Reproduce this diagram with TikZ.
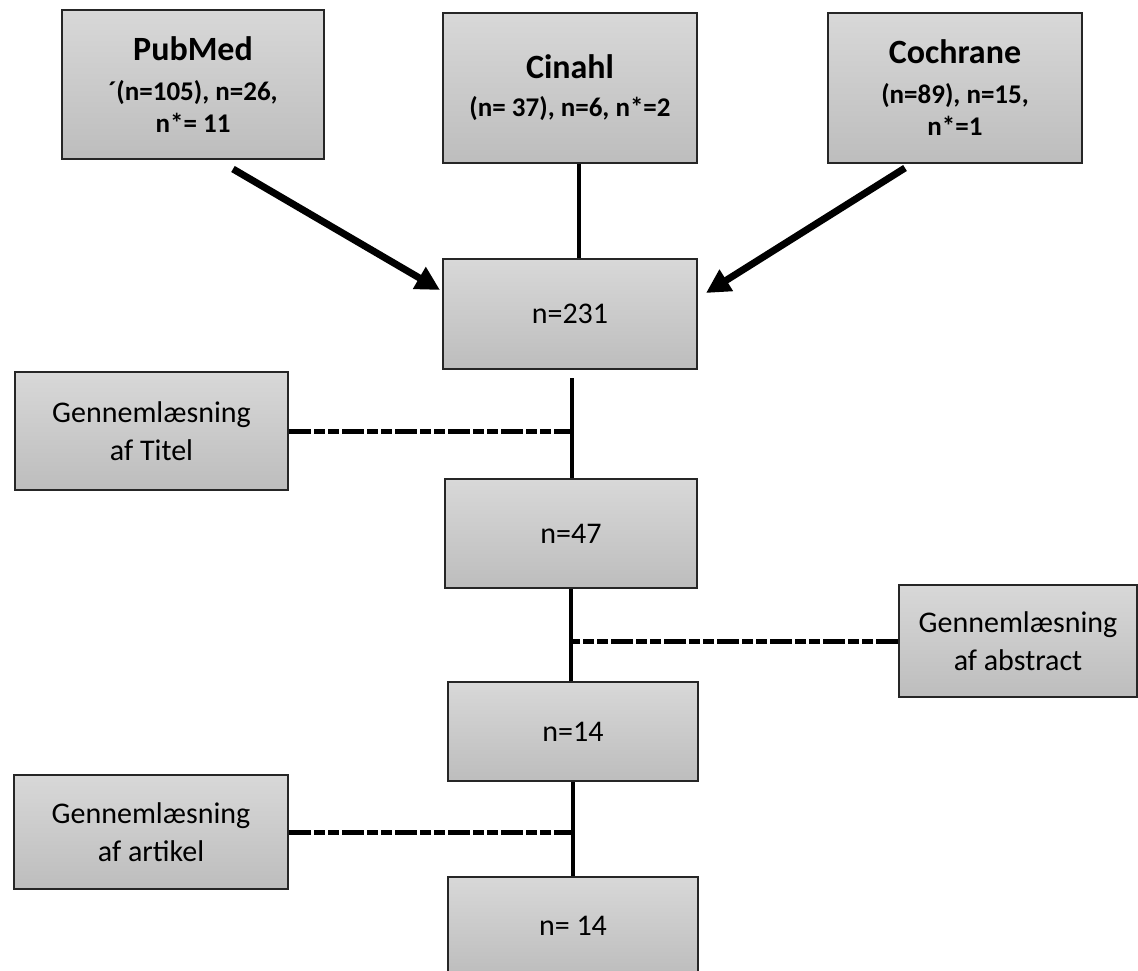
\documentclass[tikz,border=0pt]{standalone}
\usepackage{fontspec}
\setmainfont{Carlito}
\usepackage{tikz}
\usetikzlibrary{arrows.meta,calc,positioning}
\usepackage{xcolor}
\definecolor{boxtop}{HTML}{D8D8D8}
\definecolor{boxbot}{HTML}{BDBDBD}
\newcommand{\dbname}[1]{{\fontsize{34}{40}\selectfont #1}}

\begin{document}
\begin{tikzpicture}[x=1pt,y=-1pt,
  box/.style={draw=black!85,line width=2pt,top color=boxtop,bottom color=boxbot,
    inner sep=0pt,align=center,font=\fontsize{30}{38}\selectfont},
  dbbox/.style={box,font=\fontsize{27}{32}\selectfont\bfseries},
  vline/.style={line width=4pt},
  feed/.style={line width=7pt,-{Triangle[length=24pt,width=24pt]}},
  dropline/.style={line width=5pt,dash pattern=on 22pt off 3pt on 11pt off 3pt on 11pt off 3pt}]
  \clip (0,0) rectangle (1138,971);
  % databases
  \node[dbbox,minimum width=262,minimum height=149] (pubmed) at (193,84.5)
    {\dbname{PubMed}\\[8pt]´(n=105), n=26,\\n*= 11};
  \node[dbbox,minimum width=254,minimum height=150] (cinahl) at (570,88)
    {\dbname{Cinahl}\\[6pt](n= 37), n=6, n*=2};
  \node[dbbox,minimum width=254,minimum height=150] (cochrane) at (955,88)
    {\dbname{Cochrane}\\[8pt](n=89), n=15,\\n*=1};
  % counts
  \node[box,minimum width=254,minimum height=110] (n231) at (570,314) {n=231};
  \node[box,minimum width=252,minimum height=109] (n47) at (571,533.5) {n=47};
  \node[box,minimum width=250,minimum height=99] (n14a) at (573,731.5) {n=14};
  \node[box,minimum width=250,minimum height=98] (n14b) at (573,926) {n= 14};
  % screening steps
  \node[box,minimum width=273,minimum height=118] (titel) at (151.5,431)
    {Gennemlæsning\\af Titel};
  \node[box,minimum width=238,minimum height=112] (abstract) at (1018,641)
    {Gennemlæsning\\af abstract};
  \node[box,minimum width=274,minimum height=114] (artikel) at (151,832)
    {Gennemlæsning\\af artikel};
  % into the pool
  \draw[feed] ([xshift=40pt,yshift=-9pt]pubmed.south) -- ([xshift=-2pt,yshift=24pt]n231.west);
  \draw[feed] ([xshift=-50pt,yshift=-4pt]cochrane.south) -- ([xshift=8pt,yshift=21pt]n231.east);
  \draw[vline] ([xshift=9pt]cinahl.south) -- ([xshift=9pt]cinahl.south |- n231.north);
  % down the chain
  \draw[vline] ([xshift=2pt,yshift=-8pt]n231.south) -- ([xshift=2pt]n231.south |- n47.north);
  \draw[vline] (n47.south) -- (n47.south |- n14a.north);
  \draw[vline] (n14a.south) -- (n14a.south |- n14b.north);
  % exclusions
  \draw[dropline] (titel.east) -- (titel.east -| n47.north);
  \draw[dropline] (abstract.west) -- (abstract.west -| n47.south);
  \draw[dropline] (artikel.east) -- (artikel.east -| n14b.north);
\end{tikzpicture}
\end{document}
